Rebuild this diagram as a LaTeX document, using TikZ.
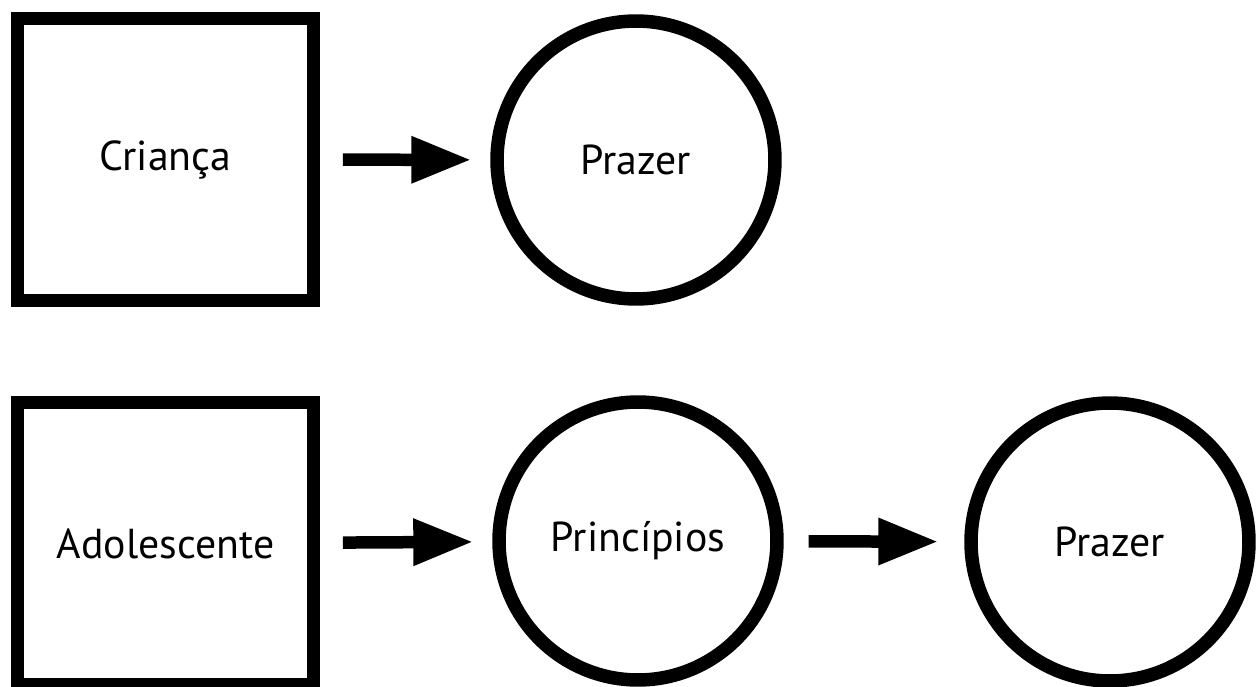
\documentclass[tikz,border=0pt]{standalone}
\usepackage{fontspec}
\setmainfont{PT Sans}
\usetikzlibrary{arrows.meta}

\begin{document}
\begin{tikzpicture}[x=0.02cm, y=-0.02cm,
    box/.style={draw, line width=0.26cm, minimum width=5.92cm, minimum height=5.64cm,
      font=\fontsize{23.8}{28}\selectfont},
    ring/.style={draw, circle, line width=0.27cm, minimum size=5.56cm,
      font=\fontsize{23.8}{28}\selectfont},
    flow/.style={line width=0.25cm, -{Triangle[length=1.2cm, width=0.88cm]}}]

        \useasboundingbox (0,0) rectangle (1257,686);

        % first row
        \node[box] (crianca) at (165.5,159.5) {Criança};
        \node[ring] (prazerA) at (636,160) {Prazer};

        % second row
        \node[box] (adolescente) at (165.5,543.5) {Adolescente};
        \node[ring] (principios) at (638,541) {Princípios};
        \node[ring] (prazerB) at (1110,542) {Prazer};

        \draw[flow, shorten <=0.46cm, shorten >=0.38cm] (crianca) -- (prazerA);
        \draw[flow, shorten <=0.46cm, shorten >=0.38cm] (adolescente) -- (principios);
        \draw[flow, shorten <=0.5cm, shorten >=0.52cm] (principios) -- (prazerB);

\end{tikzpicture}
\end{document}
